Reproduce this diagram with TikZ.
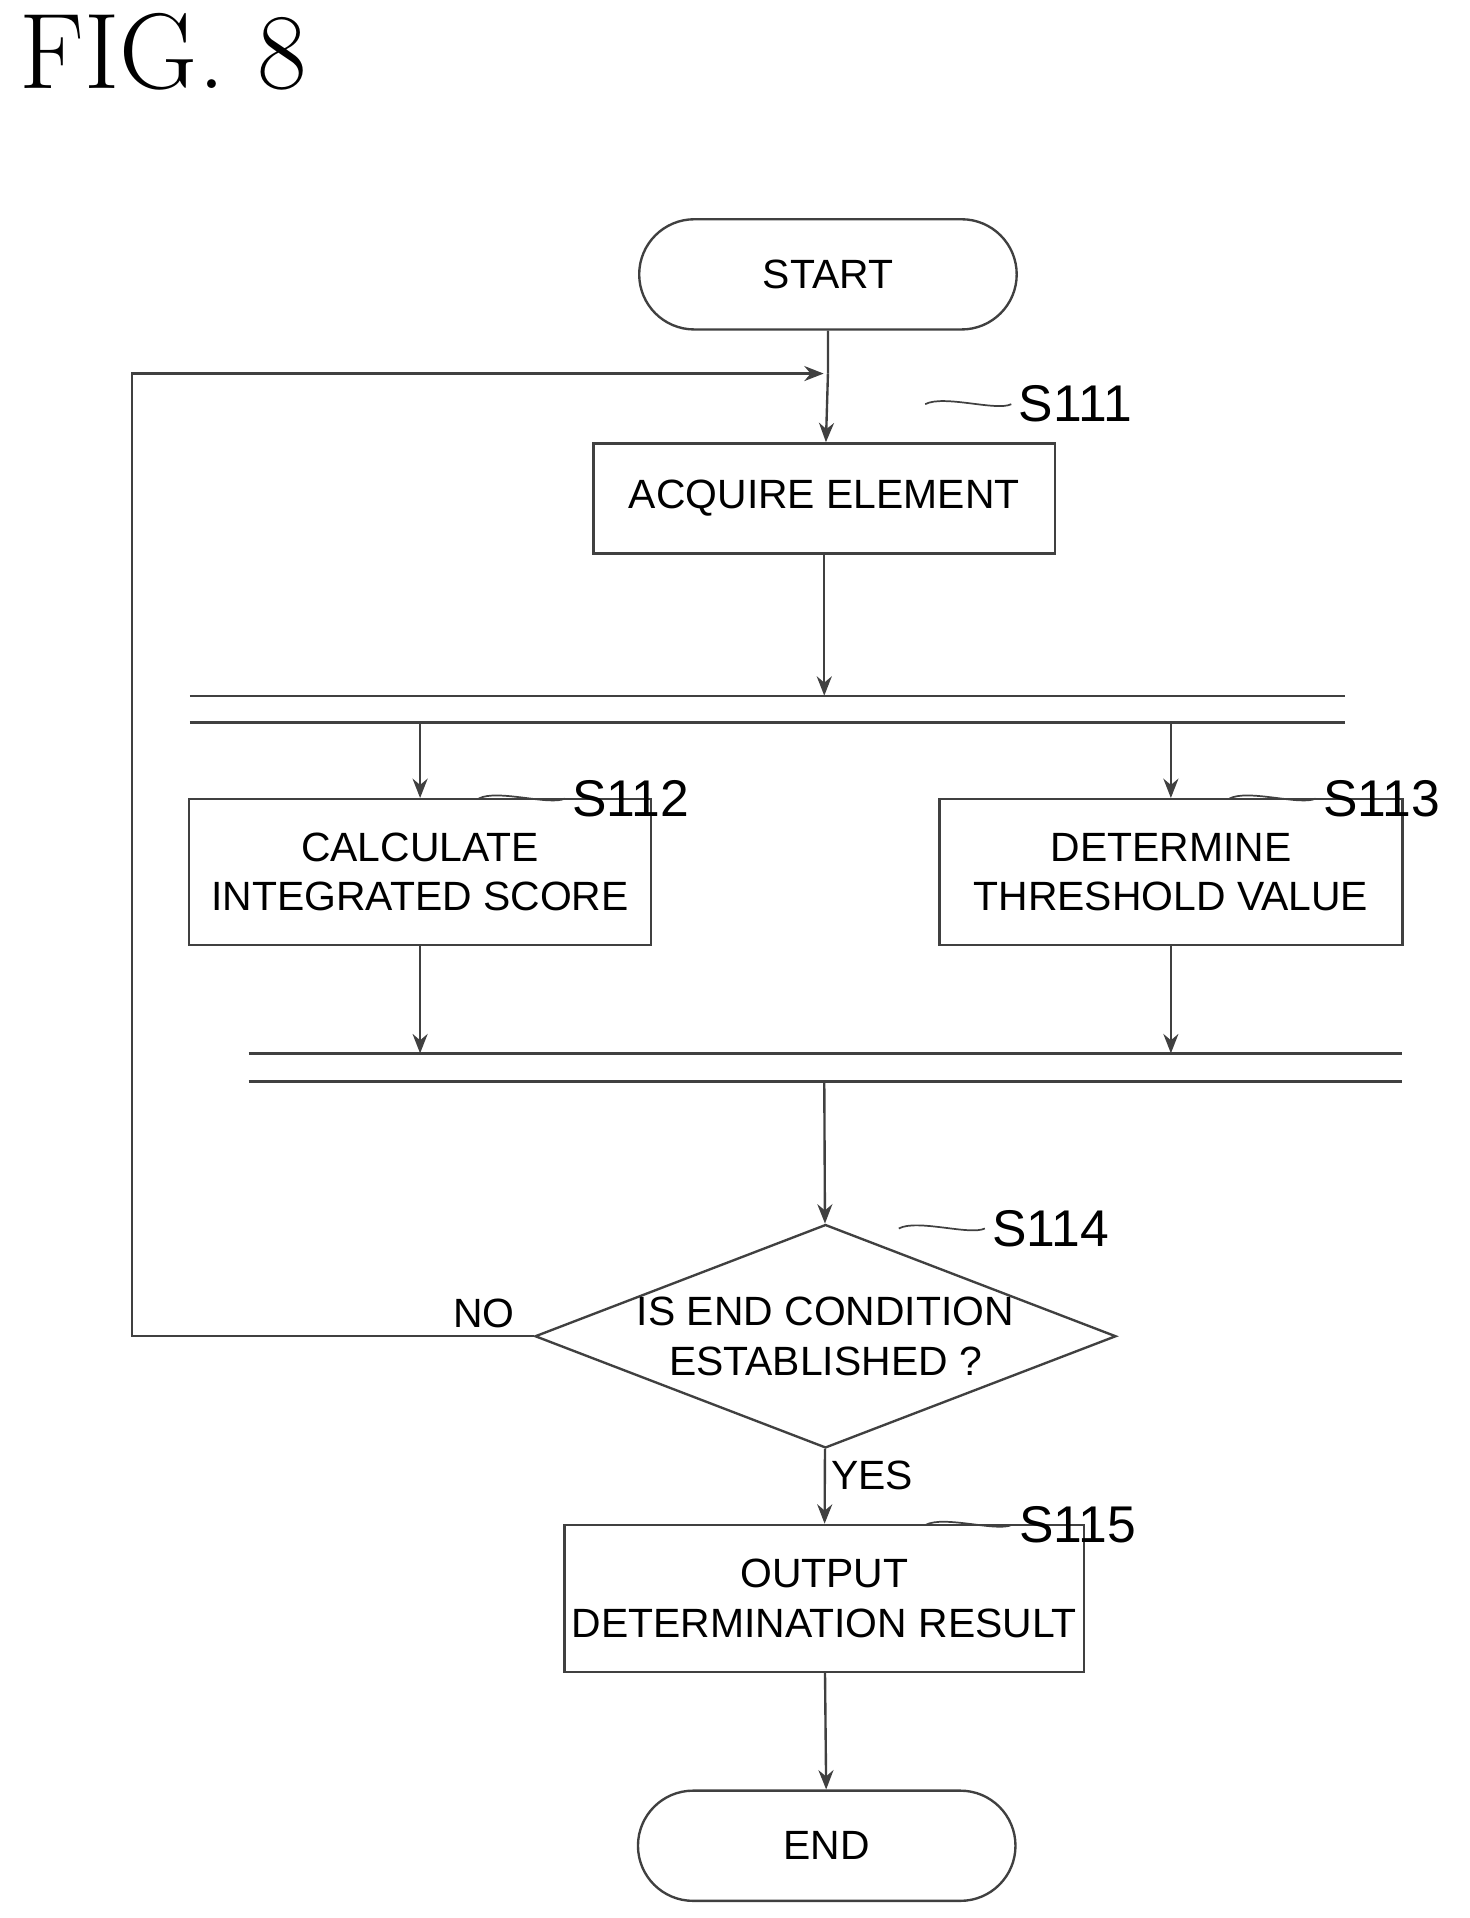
\documentclass[tikz,border=0pt]{standalone}
\usepackage{fontspec}
\setsansfont{Liberation Sans}
\usetikzlibrary{arrows.meta,
                shapes.geometric,
                shapes.misc,
                positioning}

\begin{document}
\begin{tikzpicture}[
x=0.02cm, y=-0.02cm,
   line/.style = {draw=black!75, line width=1.1pt},
    arr/.style = {line, -{Stealth[length=9pt,width=7pt]}},
   term/.style = {line, rounded rectangle, minimum width=6.4cm,
                  minimum height=1.8cm, font=\sffamily\fontsize{19}{23}\selectfont},
    box/.style = {line, rectangle, align=center,
                  font=\sffamily\fontsize{19}{23}\selectfont},
   cond/.style = {line, diamond, aspect=2.6, align=center, inner sep=0pt,
                  minimum width=9.36cm, minimum height=3.64cm,
                  font=\sffamily\fontsize{19}{23}\selectfont},
 stepno/.style = {font=\sffamily\fontsize{24}{28}\selectfont},
    lbl/.style = {font=\sffamily\fontsize{19}{23}\selectfont},
                        ]
\useasboundingbox (0,0) rectangle (1200,1566);
\node[font=\rmfamily\fontsize{50}{56}\selectfont, anchor=west] (title) at (10,42) {FIG. 8};

\node[term] (start) at (676,224) {START};
\node[box, minimum width=7.54cm, minimum height=1.8cm] (s111) at (673,407) {ACQUIRE ELEMENT};
\node[box, minimum width=7.54cm, minimum height=2.38cm] (s112) at (343,712) {CALCULATE\\INTEGRATED SCORE};
\node[box, minimum width=7.56cm, minimum height=2.38cm] (s113) at (956,712) {DETERMINE\\THRESHOLD VALUE};
\node[cond] (s114) at (674,1091) {IS END CONDITION\\ESTABLISHED ?};
\node[box, minimum width=8.26cm, minimum height=2.4cm] (s115) at (673,1305) {OUTPUT\\DETERMINATION RESULT};
\node[term] (end) at (675,1507) {END};

% parallel bars
\coordinate (f1) at (673,568);
\coordinate (f2) at (673,590);
\coordinate (j1) at (673,860);
\coordinate (j2) at (673,883);
\draw[line] (155,568) -- (1098,568) (155,590) -- (1098,590);
\draw[line] (203,860) -- (1145,860) (203,883) -- (1145,883);

% loop
\coordinate (loopL) at (108,305);
\coordinate (loopM) at (676,305);
\draw[line] (start) -- (loopM);
\draw[arr] (loopM) -- (s111);
\draw[arr] (s111) -- (f1);
\draw[arr] (s112.north |- f2) -- (s112);
\draw[arr] (s113.north |- f2) -- (s113);
\draw[arr] (s112) -- (s112.south |- j1);
\draw[arr] (s113) -- (s113.south |- j1);
\draw[arr] (j2) -- (s114);
\draw[arr] (s114.west) -- (s114.west -| loopL) -- (loopL) -- ([xshift=-2pt]loopM);
\draw[arr] (s114) -- (s115);
\draw[arr] (s115) -- (end);
\node[lbl] (no) at (395,1072) {NO};
\node[lbl] (yes) at (712,1205) {YES};

% step labels
\foreach \n/\t/\x/\y in {s111/S111/878/330, s112/S112/515/652, s113/S113/1128/652,
                         s114/S114/858/1003, s115/S115/880/1245}{
  \node[stepno] (l\n) at (\x,\y) {\t};
  \draw[line, line width=0.8pt] ([xshift=-40]l\n.west) .. controls +(15,-8) and +(-12,6) .. (l\n.west);
}
\end{tikzpicture}
\end{document}
